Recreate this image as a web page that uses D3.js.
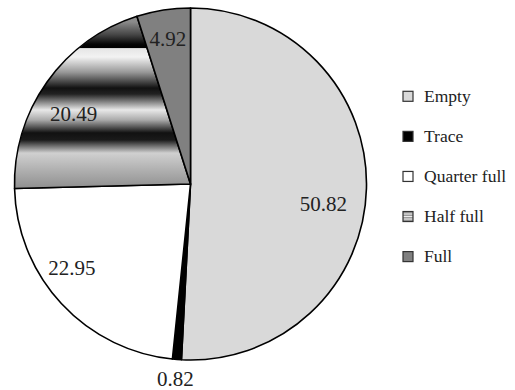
<!DOCTYPE html>
<html>
<head>
<meta charset="utf-8">
<script src="https://cdn.jsdelivr.net/npm/d3@7"></script>
<style>
  html, body { margin: 0; padding: 0; background: #fff; }
  svg { display: block; }
</style>
</head>
<body>
<svg id="chart" width="515" height="390"></svg>
<script>
// Fill level of containers, percent of total
const categories = ["Empty", "Trace", "Quarter full", "Half full", "Full"];
const shares = [50.82, 0.82, 22.95, 20.49, 4.92];
const valueLabels = ["50.82", "0.82", "22.95", "20.49", "4.92"];

// Label placement: radius of the anchor arc and a small hand offset
const labelRadius = [135, 195, 146, 136, 147];
const labelNudge = [[-2, 16.5], [0, 0], [-11.5, -16], [-6, 8.5], [0, 0]];

const SERIF = '"Liberation Serif"';

const cx = 190.5, cy = 184, R = 176;

const svg = d3.select("#chart");
const defs = svg.append("defs");

// Banded shading for the "Half full" slice
const band = defs.append("linearGradient")
  .attr("id", "halfBands")
  .attr("gradientUnits", "userSpaceOnUse")
  .attr("x1", 0).attr("x2", 0)
  .attr("y1", 8 - cy).attr("y2", 190 - cy);
[
  [0, "#9a9a9a"], [0.077, "#8a8a8a"], [0.148, "#444"], [0.198, "#060606"],
  [0.217, "#000"], [0.223, "#e6e6e6"], [0.269, "#f2f2f2"], [0.352, "#999"],
  [0.44, "#111"], [0.473, "#222"], [0.56, "#e8e8e8"], [0.615, "#aaa"],
  [0.686, "#111"], [0.725, "#1a1a1a"], [0.797, "#d0d0d0"], [0.89, "#b0b0b0"],
  [1, "#8c8c8c"]
].forEach(([o, c]) => band.append("stop").attr("offset", o).attr("stop-color", c));

const fills = ["#d9d9d9", "#000000", "#ffffff", "url(#halfBands)", "#808080"];
const color = d3.scaleOrdinal().domain(categories).range(fills);

const pie = d3.pie().sort(null).value(d => d.value);
const data = categories.map((c, i) => ({ name: c, value: shares[i], label: valueLabels[i], i }));
const arcs = pie(data);

const arc = d3.arc().innerRadius(0).outerRadius(R);

const g = svg.append("g").attr("transform", `translate(${cx},${cy})`);

g.selectAll("path.slice")
  .data(arcs)
  .join("path")
  .attr("class", "slice")
  .attr("d", arc)
  .attr("fill", d => color(d.data.name))
  .attr("stroke", "#000")
  .attr("stroke-width", 1.6)
  .attr("stroke-linejoin", "round");

g.selectAll("text.val")
  .data(arcs)
  .join("text")
  .attr("class", "val")
  .attr("transform", d => {
    const r = labelRadius[d.data.i];
    const p = d3.arc().innerRadius(r).outerRadius(r).centroid(d);
    const n = labelNudge[d.data.i];
    return `translate(${p[0] + n[0]},${p[1] + n[1]})`;
  })
  .attr("text-anchor", "middle")
  .attr("dy", "0.35em")
  .style("font-family", SERIF)
  .style("font-size", "21px")
  .attr("fill", "#222")
  .text(d => d.data.label);

// Legend
const rowY = d3.scalePoint().domain(categories).range([96.3, 256.6]);
const legend = svg.append("g").attr("transform", "translate(403,0)");
const sw = 10;

const items = legend.selectAll("g.item")
  .data(categories)
  .join("g")
  .attr("class", "item")
  .attr("transform", d => `translate(0,${rowY(d)})`);

items.append("rect")
  .attr("x", 0).attr("y", -sw / 2)
  .attr("width", sw).attr("height", sw)
  .attr("fill", (d, i) => i === 3 ? "#9a9a9a" : fills[i])
  .attr("stroke", "#333")
  .attr("stroke-width", 1.2);

// Stripes in the "Half full" swatch
items.filter((d, i) => i === 3)
  .selectAll("line")
  .data([-2.5, 0, 2.5])
  .join("line")
  .attr("x1", 0.8).attr("x2", sw - 0.8)
  .attr("y1", d => d).attr("y2", d => d)
  .attr("stroke", "#eee")
  .attr("stroke-width", 1);

items.append("text")
  .attr("x", 21)
  .attr("dy", "0.33em")
  .style("font-family", SERIF)
  .style("font-size", "17.5px")
  .attr("fill", "#222")
  .text(d => d);
</script>
</body>
</html>
